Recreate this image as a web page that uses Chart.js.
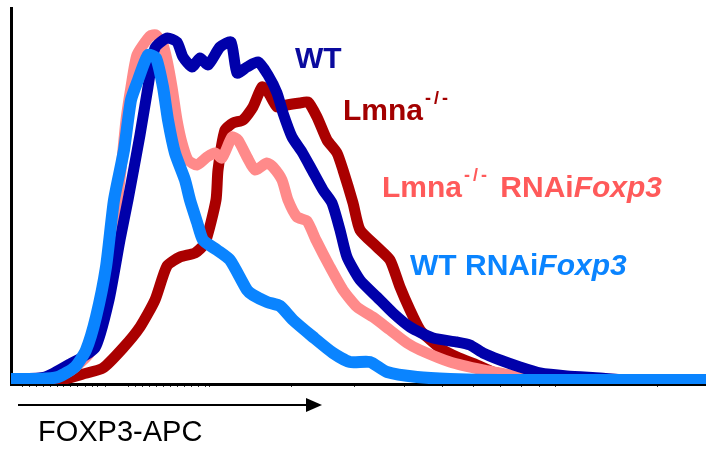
<!DOCTYPE html>
<html>
<head>
<meta charset="utf-8">
<script src="https://cdn.jsdelivr.net/npm/chart.js@4"></script>
<style>
  html, body { margin: 0; padding: 0; background: #fff; }
  #wrap { width: 706px; height: 450px; }
</style>
</head>
<body>
<div id="wrap"><canvas id="c" width="706" height="450"></canvas></div>
<script>
"use strict";

// FOXP3-APC channel (x) and event count (y)
const wtRnaiX = [1, 29, 47, 64, 75, 85, 95, 103, 113, 120, 127, 137, 145, 152, 157, 164, 174, 179, 186, 192, 206, 219, 236, 242, 256, 269, 282, 302, 322, 339, 359, 376, 406, 439, 489, 695];
const wtRnaiY = [5, 5, 7, 17, 34, 67, 117, 184, 234, 284, 304, 329, 326, 297, 264, 231, 204, 184, 162, 144, 134, 124, 94, 89, 82, 78, 64, 47, 31, 22, 22, 12, 7, 5, 4, 4];

const wtX = [1, 34, 59, 84, 98, 109, 117, 129, 137, 144, 156, 166, 172, 181, 189, 197, 209, 220, 226, 236, 247, 257, 266, 272, 281, 291, 301, 312, 321, 329, 336, 349, 366, 382, 399, 422, 446, 459, 472, 489, 509, 529, 556, 589, 616, 695];
const wtY = [5, 7, 20, 36, 84, 144, 184, 249, 297, 336, 346, 342, 327, 317, 326, 319, 337, 342, 311, 317, 322, 309, 291, 271, 247, 232, 214, 194, 181, 154, 127, 104, 87, 71, 57, 46, 42, 39, 31, 24, 17, 11, 8, 6, 4, 4];

const lmnaRnaiX = [1, 39, 59, 79, 93, 103, 110, 115, 120, 126, 139, 145, 152, 156, 161, 166, 171, 177, 186, 196, 204, 211, 221, 227, 236, 244, 256, 262, 271, 277, 286, 296, 305, 319, 332, 346, 362, 379, 396, 409, 439, 472, 499, 522, 695];
const lmnaRnaiY = [4, 5, 13, 32, 84, 154, 214, 264, 297, 329, 348, 349, 339, 324, 297, 264, 241, 224, 219, 227, 231, 226, 247, 244, 227, 214, 221, 217, 204, 184, 167, 163, 144, 117, 94, 77, 67, 54, 41, 34, 22, 14, 9, 5, 4];

const lmnaX = [1, 49, 72, 92, 112, 129, 144, 156, 169, 184, 194, 205, 207, 214, 222, 232, 242, 251, 257, 266, 276, 289, 297, 306, 316, 326, 332, 342, 349, 366, 379, 389, 399, 409, 416, 429, 446, 466, 482, 506, 529, 695];
const lmnaY = [4, 4, 10, 16, 36, 57, 84, 118, 127, 131, 141, 184, 214, 254, 261, 264, 277, 297, 292, 277, 279, 281, 282, 267, 244, 231, 214, 181, 154, 137, 124, 97, 74, 54, 47, 36, 27, 19, 12, 7, 5, 4];

// minor tick marks under the axis (channel units)
const axisTicks = [11, 18, 25, 32, 39, 46, 52, 59, 66, 74, 81, 87, 94, 117, 124, 131, 138, 145, 152, 159, 166, 173, 180, 187, 194, 199, 280, 343, 393, 432, 462, 489, 510, 528, 544, 646];

const xTitle = "FOXP3-APC";

// in-plot labels: [name, superscript, suffix, italic gene]
const labelText = [
    ["WT", "", "", ""],
    ["Lmna", "-/-", "", ""],
    ["Lmna", "-/-", " RNAi", "Foxp3"],
    ["WT", "", " RNAi", "Foxp3"]
];
const labelX = [284, 332, 371, 399];
const labelY = [316, 264, 187, 109];
const labelColors = ["#0A0A9E", "#A30000", "#FF5A5A", "#0A84FF"];

const pts = (xs, ys) => xs.map((x, i) => ({ x, y: ys[i] }));

const lineSet = (label, xs, ys, color, order, width) => ({
    label,
    data: pts(xs, ys),
    borderColor: color,
    borderWidth: width,
    pointRadius: 0,
    tension: 0.2,
    borderJoinStyle: "round",
    borderCapStyle: "round",
    fill: false,
    order
});

const labelPlugin = {
    id: "labelPlugin",
    afterDraw(chart) {
        const { ctx, scales: { x, y } } = chart;
        ctx.save();
        ctx.textBaseline = "alphabetic";
        ctx.textAlign = "left";
        labelText.forEach((parts, i) => {
            let px = x.getPixelForValue(labelX[i]);
            const py = y.getPixelForValue(labelY[i]);
            ctx.fillStyle = labelColors[i];
            ctx.font = "bold 30px 'Liberation Sans', Arial, sans-serif";
            ctx.letterSpacing = "0px";
            ctx.fillText(parts[0], px, py);
            px += ctx.measureText(parts[0]).width;
            if (parts[1]) {
                ctx.font = "bold 18px 'Liberation Sans', Arial, sans-serif";
                ctx.letterSpacing = "3px";
                ctx.fillText(parts[1], px + 2, py - 16);
                px += ctx.measureText(parts[1]).width + 4;
                ctx.letterSpacing = "0px";
            }
            if (parts[2]) {
                ctx.font = "bold 30px 'Liberation Sans', Arial, sans-serif";
                ctx.fillText(parts[2], px, py);
                px += ctx.measureText(parts[2]).width;
            }
            if (parts[3]) {
                ctx.font = "italic bold 30px 'Liberation Sans', Arial, sans-serif";
                ctx.fillText(parts[3], px, py);
            }
        });

        // arrow under the axis and the axis title
        const ax0 = 18, ax1 = 322, ay = 405;
        ctx.strokeStyle = "#000";
        ctx.fillStyle = "#000";
        ctx.lineWidth = 2;
        ctx.beginPath();
        ctx.moveTo(ax0, ay);
        ctx.lineTo(ax1 - 10, ay);
        ctx.stroke();
        ctx.beginPath();
        ctx.moveTo(ax1, ay);
        ctx.lineTo(ax1 - 16, ay - 7);
        ctx.lineTo(ax1 - 16, ay + 7);
        ctx.closePath();
        ctx.fill();

        ctx.font = "29px 'Liberation Sans', Arial, sans-serif";
        ctx.fillText(xTitle, 38, 441);
        ctx.restore();
    }
};

new Chart(document.getElementById("c"), {
    type: "line",
    data: {
        datasets: [
            lineSet("WT RNAiFoxp3", wtRnaiX, wtRnaiY, "#0A84FF", 0, 12),
            lineSet("WT", wtX, wtY, "#0000AA", 1, 11),
            lineSet("Lmna-/- RNAiFoxp3", lmnaRnaiX, lmnaRnaiY, "#FF8A8A", 2, 11),
            lineSet("Lmna-/-", lmnaX, lmnaY, "#AA0000", 3, 11)
        ]
    },
    options: {
        responsive: false,
        animation: false,
        devicePixelRatio: 1,
        layout: { padding: { left: 11, right: 0, top: 8, bottom: 63 } },
        plugins: { legend: { display: false }, tooltip: { enabled: false } },
        scales: {
            x: {
                type: "linear",
                min: 0,
                max: 695,
                afterBuildTicks: s => { s.ticks = axisTicks.map(value => ({ value })); },
                afterFit: s => { s.height = 3; },
                ticks: { display: false },
                grid: { drawOnChartArea: false, drawTicks: true, tickLength: 3, color: "#333", lineWidth: 1 },
                border: { display: true, color: "#000", width: 3 }
            },
            y: {
                min: 0,
                max: 376,
                afterFit: s => { s.width = 0; },
                ticks: { display: false },
                grid: { display: false },
                border: { display: true, color: "#000", width: 3 }
            }
        }
    },
    plugins: [labelPlugin]
});
</script>
</body>
</html>
